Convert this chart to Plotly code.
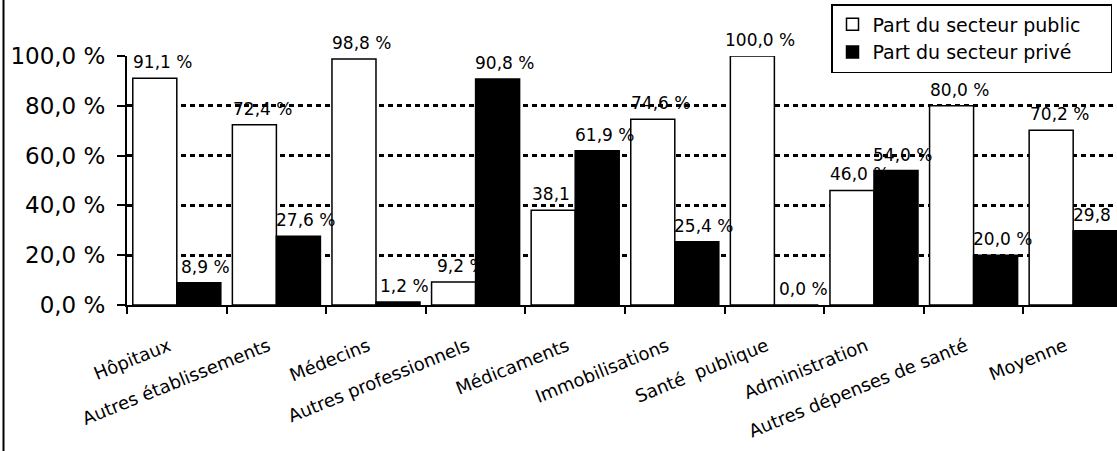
import plotly.graph_objects as go

categories = ["Hôpitaux", "Autres établissements", "Médecins", "Autres professionnels",
              "Médicaments", "Immobilisations", "Santé\u00a0 publique", "Administration",
              "Autres dépenses de santé", "Moyenne"]
public_share = [91.1, 72.4, 98.8, 9.2, 38.1, 74.6, 100.0, 46.0, 80.0, 70.2]
private_share = [8.9, 27.6, 1.2, 90.8, 61.9, 25.4, 0.0, 54.0, 20.0, 29.8]
y_ticks = [0, 20, 40, 60, 80, 100]
y_ticktext = ["0,0 %", "20,0 %", "40,0 %", "60,0 %", "80,0 %", "100,0 %"]
series_names = ["Part du secteur public", "Part du secteur privé"]

W, H = 1117, 451
ML, MR, MT, MB = 127, 0, 56, 146
FONT = "DejaVu Sans"
PAD = "\u00a0" * 4

def fmt(v):
    return f"{v:.1f}".replace(".", ",") + " %"

fig = go.Figure()
fig.add_trace(go.Bar(name=series_names[0] + PAD, x=categories, y=public_share,
                     marker=dict(color="white", line=dict(color="black", width=1.5))))
fig.add_trace(go.Bar(name=series_names[1] + PAD, x=categories, y=private_share,
                     marker=dict(color="black", line=dict(color="black", width=1.5))))

annotations = []
for c, v in zip(categories, public_share):
    annotations.append(dict(x=c, y=v, xref="x", yref="y", text=fmt(v), showarrow=False,
                            xshift=-22 + 8, yshift=4, yanchor="bottom",
                            font=dict(family=FONT, size=17, color="black")))
for c, v in zip(categories, private_share):
    annotations.append(dict(x=c, y=v, xref="x", yref="y", text=fmt(v), showarrow=False,
                            xshift=22 + 7, yshift=4, yanchor="bottom",
                            font=dict(family=FONT, size=17, color="black")))

plot_w = W - ML - MR
plot_h = H - MT - MB

fig.update_layout(
    width=W, height=H,
    margin=dict(l=ML, r=MR, t=MT, b=MB, pad=0, autoexpand=False),
    paper_bgcolor="white", plot_bgcolor="white",
    barmode="group", bargap=0.116, bargroupgap=0,
    font=dict(family=FONT, color="black"),
    annotations=annotations,
    legend=dict(xref="container", yref="container", x=1112 / W, y=1 - 4 / H,
                xanchor="right", yanchor="top",
                bordercolor="black", borderwidth=1.5, bgcolor="white",
                font=dict(family=FONT, size=19, color="black"),
                itemwidth=30, tracegroupgap=0),
    xaxis=dict(type="category", range=[-0.5, 9.44], tickson="boundaries",
               ticks="outside", ticklen=7, tickwidth=2, tickcolor="black",
               showline=True, linecolor="black", linewidth=2, automargin=False,
               showgrid=False, tickangle=-22, ticklabelstandoff=22, ticklabelshift=-8,
               tickfont=dict(family=FONT, size=18, color="black")),
    yaxis=dict(range=[0, 100], tickvals=y_ticks, ticktext=y_ticktext,
               ticks="outside", ticklen=8, tickwidth=2, tickcolor="black",
               showline=True, linecolor="black", linewidth=2, automargin=False,
               showgrid=True, gridcolor="black", gridwidth=2.5, griddash="5px,4px",
               zeroline=False, ticklabelstandoff=7,
               tickfont=dict(family=FONT, size=23, color="black")),
    shapes=[dict(type="line", xref="paper", yref="paper",
                 x0=(3.5 - ML) / plot_w, x1=(3.5 - ML) / plot_w,
                 y0=-MB / plot_h, y1=1 + MT / plot_h,
                 line=dict(color="black", width=2))],
)

fig.write_html("out.html", config={"displayModeBar": False},
               post_script="document.body.style.margin='0';document.body.style.overflow='hidden';")
